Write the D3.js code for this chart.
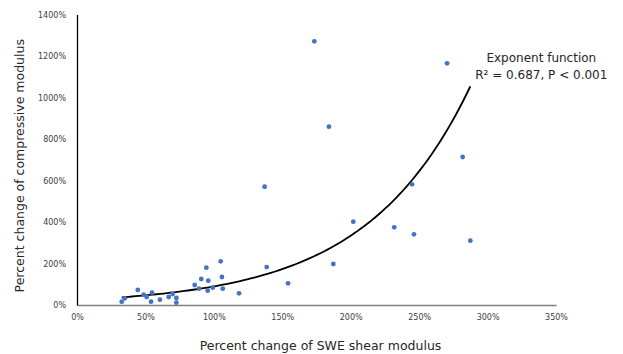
<!DOCTYPE html>
<html>
<head>
<meta charset="utf-8">
<script src="https://cdn.jsdelivr.net/npm/d3@7"></script>
<style>
    body { margin: 0; background: #fff; }
    #chart { width: 623px; height: 354px; }
    text { font-family: "DejaVu Sans", Verdana, sans-serif; }
</style>
</head>
<body>
<div id="chart"></div>
<script>
/* ----------------------- Data ----------------------- */
// percent change of SWE shear modulus (fraction, 1 = 100%)
const shearChange = [
    0.327, 0.349, 0.444, 0.487, 0.509, 0.541, 0.548, 0.606, 0.670, 0.699,
    0.726, 0.726, 0.860, 0.891, 0.908, 0.945, 0.959, 0.955, 0.992, 1.050,
    1.059, 1.065, 1.184, 1.371, 1.386, 1.542, 1.873, 2.019, 2.318, 2.448,
    2.462, 2.874, 1.734, 2.704, 1.841, 2.818
];
// percent change of compressive modulus (fraction)
const compressiveChange = [
    0.159, 0.323, 0.723, 0.496, 0.386, 0.159, 0.593, 0.255, 0.386, 0.530,
    0.337, 0.111, 0.964, 0.786, 1.253, 1.798, 1.171, 0.689, 0.834, 2.106,
    1.349, 0.786, 0.564, 5.700, 1.830, 1.046, 1.976, 4.014, 3.745, 5.817,
    3.407, 3.099, 12.708, 11.648, 8.593, 7.133
];
// exponential trendline y = a * e^(b x)
const trendA = 0.2407;
const trendB = 1.315;
const xTicks = [0, 0.5, 1, 1.5, 2, 2.5, 3, 3.5];
const yTicks = [0, 2, 4, 6, 8, 10, 12, 14];
const trendLabel = ["Exponent function", "R\u00b2 = 0.687, P < 0.001"];
const xTitle = "Percent change of SWE shear modulus";
const yTitle = "Percent change of compressive modulus";

/* ----------------------- Dimensions ----------------------- */
const W = 623, H = 354;
const margin = { top: 14.5, right: 67, bottom: 49, left: 77 };
const width = W - margin.left - margin.right;
const height = H - margin.top - margin.bottom;

const svg = d3.select("#chart").append("svg")
    .attr("width", W)
    .attr("height", H);

const g = svg.append("g")
    .attr("transform", `translate(${margin.left},${margin.top})`);

/* ----------------------- Scales & axes ----------------------- */
const x = d3.scaleLinear().domain([0, 3.5]).range([0, width]);
const y = d3.scaleLinear().domain([0, 14]).range([height, 0]);
const pct = d => `${Math.round(d * 100)}%`;

const xAxis = g.append("g")
    .attr("transform", `translate(0,${height})`)
    .call(d3.axisBottom(x).tickValues(xTicks).tickFormat(pct).tickSize(0).tickPadding(9));
xAxis.select(".domain").attr("stroke", "#7f7f7f").attr("stroke-width", 1.3);

const yAxis = g.append("g")
    .call(d3.axisLeft(y).tickValues(yTicks).tickFormat(pct).tickSize(0).tickPadding(11));
yAxis.select(".domain").attr("stroke", "#000").attr("stroke-width", 1.3);

g.selectAll(".tick text")
    .attr("fill", "#404040")
    .style("font-size", "8px");

/* ----------------------- Trendline ----------------------- */
const [xMin, xMax] = d3.extent(shearChange);
const curveData = d3.range(0, 101).map(i => {
    const xv = xMin + (xMax - xMin) * i / 100;
    return [xv, trendA * Math.exp(trendB * xv)];
});
g.append("path")
    .datum(curveData)
    .attr("fill", "none")
    .attr("stroke", "#000")
    .attr("stroke-width", 1.8)
    .attr("d", d3.line().x(d => x(d[0])).y(d => y(d[1])).curve(d3.curveMonotoneX));

/* ----------------------- Points ----------------------- */
g.selectAll("circle.pt")
    .data(shearChange.map((d, i) => [d, compressiveChange[i]]))
    .enter().append("circle")
    .attr("class", "pt")
    .attr("cx", d => x(d[0]))
    .attr("cy", d => y(d[1]))
    .attr("r", 2.4)
    .attr("fill", "#4472c4");

/* ----------------------- Labels ----------------------- */
g.append("text")
    .attr("text-anchor", "middle")
    .attr("fill", "#262626")
    .style("font-size", "12px")
    .selectAll("tspan")
    .data(trendLabel)
    .enter().append("tspan")
    .attr("x", x(xMax) + 71)
    .attr("y", (d, i) => y(11.7) + i * 17)
    .text(d => d);

svg.append("text")
    .attr("x", margin.left + width / 2 + 4)
    .attr("y", 350)
    .attr("text-anchor", "middle")
    .attr("fill", "#262626")
    .style("font-size", "12.5px")
    .text(xTitle);

svg.append("text")
    .attr("transform", `translate(24,${margin.top + height / 2 + 6}) rotate(-90)`)
    .attr("text-anchor", "middle")
    .attr("fill", "#262626")
    .style("font-size", "12.5px")
    .text(yTitle);
</script>
</body>
</html>
